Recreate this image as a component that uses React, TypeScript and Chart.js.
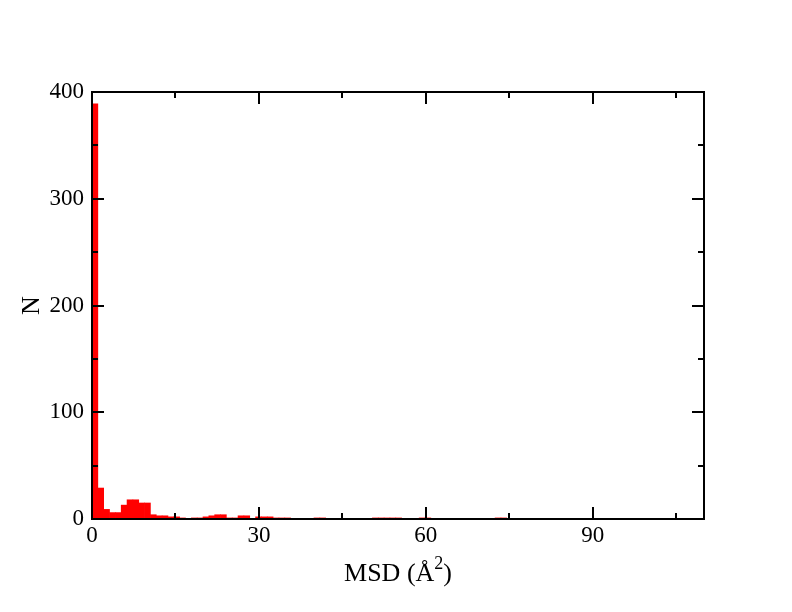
import React, { useEffect, useRef } from "react";
import { Chart, registerables } from "chart.js";

Chart.register(...registerables);

// Histogram bin width (Å²) and counts per bin, starting at 0
const binWidth = 1.05;
const counts = [
  389, 29, 9, 6, 6, 13, 18, 18, 15, 15,
  4, 3, 3, 2, 2, 1, 0, 1, 1, 2,
  3, 4, 4, 1, 1, 3, 3, 0, 2, 2,
  2, 1, 1, 1, 0, 0, 0, 0, 1, 1,
  0, 0, 0, 0, 0, 0, 0, 0, 1, 1,
  1, 1, 1, 0, 0, 0, 1, 1, 0, 0,
  0, 0, 0, 0, 0, 0, 0, 0, 0, 1,
  1,
];
const xRange = [0, 110];
const xStep = 30;
const yRange = [0, 400];
const yStep = 100;
// x title: base text, superscript, closing text
const xTitleParts = ["MSD (Å", "2", ")"];
const yTitle = "N";

const FONT = "'Liberation Serif', 'Times New Roman', serif";
const FSIZE = 23;
const TSIZE = 26;

const framePlugin = {
  id: "xmgraceFrame",
  afterDraw(chart: any) {
    const { ctx, chartArea: a, scales } = chart;
    const xs = scales.x;
    const ys = scales.y;
    const major = 12;
    const minor = 6;
    ctx.save();
    ctx.strokeStyle = "#000";
    ctx.lineWidth = 2;
    ctx.beginPath();
    const drawX = (v: number, len: number) => {
      const p = Math.round(xs.getPixelForValue(v));
      if (p <= a.left + 1 || p >= a.right - 1) return;
      ctx.moveTo(p, a.bottom);
      ctx.lineTo(p, a.bottom - len);
      ctx.moveTo(p, a.top);
      ctx.lineTo(p, a.top + len);
    };
    const drawY = (v: number, len: number) => {
      const p = Math.round(ys.getPixelForValue(v));
      if (p <= a.top + 1 || p >= a.bottom - 1) return;
      ctx.moveTo(a.left, p);
      ctx.lineTo(a.left + len, p);
      ctx.moveTo(a.right, p);
      ctx.lineTo(a.right - len, p);
    };
    const xt = xs.ticks.map((t: any) => t.value);
    const yt = ys.ticks.map((t: any) => t.value);
    xt.forEach((v: number) => drawX(v, major));
    yt.forEach((v: number) => drawY(v, major));
    if (xt.length > 1) {
      const s = xt[1] - xt[0];
      for (let v = xs.min + s / 2; v < xs.max; v += s) drawX(v, minor);
    }
    if (yt.length > 1) {
      const s = yt[1] - yt[0];
      for (let v = ys.min + s / 2; v < ys.max; v += s) drawY(v, minor);
    }
    ctx.stroke();
    ctx.strokeRect(a.left, a.top, a.right - a.left, a.bottom - a.top);

    // x-axis title with a real superscript
    const base = `${TSIZE}px ${FONT}`;
    const sup = `${Math.round(TSIZE * 0.68)}px ${FONT}`;
    ctx.fillStyle = "#000";
    ctx.textBaseline = "alphabetic";
    ctx.textAlign = "left";
    ctx.font = base;
    const w0 = ctx.measureText(xTitleParts[0]).width;
    const w2 = ctx.measureText(xTitleParts[2]).width;
    ctx.font = sup;
    const w1 = ctx.measureText(xTitleParts[1]).width;
    const total = w0 + w1 + w2;
    let x = (a.left + a.right) / 2 - total / 2;
    const baseY = xs.bottom - 31;
    ctx.font = base;
    ctx.fillText(xTitleParts[0], x, baseY);
    x += w0;
    ctx.font = sup;
    ctx.fillText(xTitleParts[1], x, baseY - TSIZE * 0.48);
    x += w1;
    ctx.font = base;
    ctx.fillText(xTitleParts[2], x, baseY);
    ctx.restore();
  },
};

export default function App() {
  const canvasRef = useRef<HTMLCanvasElement | null>(null);

  useEffect(() => {
    const canvas = canvasRef.current;
    if (!canvas) return;
    let chart: Chart | null = null;
    let cancelled = false;

    const build = () => {
      if (cancelled) return;
      const data = counts.map((c, i) => ({ x: (i + 0.5) * binWidth, y: c }));
      chart = new Chart(canvas, {
        type: "bar",
        data: {
          datasets: [
            {
              data: data as any,
              backgroundColor: "#ff0000",
              borderWidth: 0,
              barPercentage: 1,
              categoryPercentage: 1,
            },
          ],
        },
        options: {
          animation: false,
          responsive: true,
          maintainAspectRatio: false,
          layout: { padding: { top: 92, right: 88, left: 0, bottom: 0 } },
          plugins: { legend: { display: false }, tooltip: { enabled: false } },
          scales: {
            x: {
              type: "linear",
              min: xRange[0],
              max: xRange[1],
              offset: false,
              grid: { display: false, drawTicks: false },
              border: { display: false },
              ticks: {
                stepSize: xStep,
                padding: 3,
                color: "#000",
                font: { family: FONT, size: FSIZE },
                maxRotation: 0,
              },
              afterBuildTicks: (scale: any) => {
                scale.ticks = scale.ticks.filter((t: any) => t.value % xStep === 0);
              },
              title: { display: false },
              afterFit: (scale: any) => {
                scale.height = 93;
              },
            },
            y: {
              type: "linear",
              min: yRange[0],
              max: yRange[1],
              grid: { display: false, drawTicks: false },
              border: { display: false },
              ticks: {
                stepSize: yStep,
                padding: 8,
                color: "#000",
                font: { family: FONT, size: FSIZE },
              },
              title: {
                display: true,
                text: yTitle,
                color: "#000",
                font: { family: FONT, size: TSIZE },
                padding: { top: 17, bottom: 0 },
              },
              afterFit: (scale: any) => {
                scale.width = 92;
              },
            },
          },
        },
        plugins: [framePlugin],
      });
    };

    const fontsApi = (document as any).fonts;
    if (fontsApi && fontsApi.load) {
      fontsApi.load(`${FSIZE}px 'Liberation Serif'`).then(build, build);
    } else {
      build();
    }

    return () => {
      cancelled = true;
      if (chart) chart.destroy();
    };
  }, []);

  return (
    <div
      style={{
        position: "absolute",
        left: 0,
        top: 0,
        width: 792,
        height: 612,
        background: "#fff",
      }}
    >
      <canvas ref={canvasRef} />
    </div>
  );
}
